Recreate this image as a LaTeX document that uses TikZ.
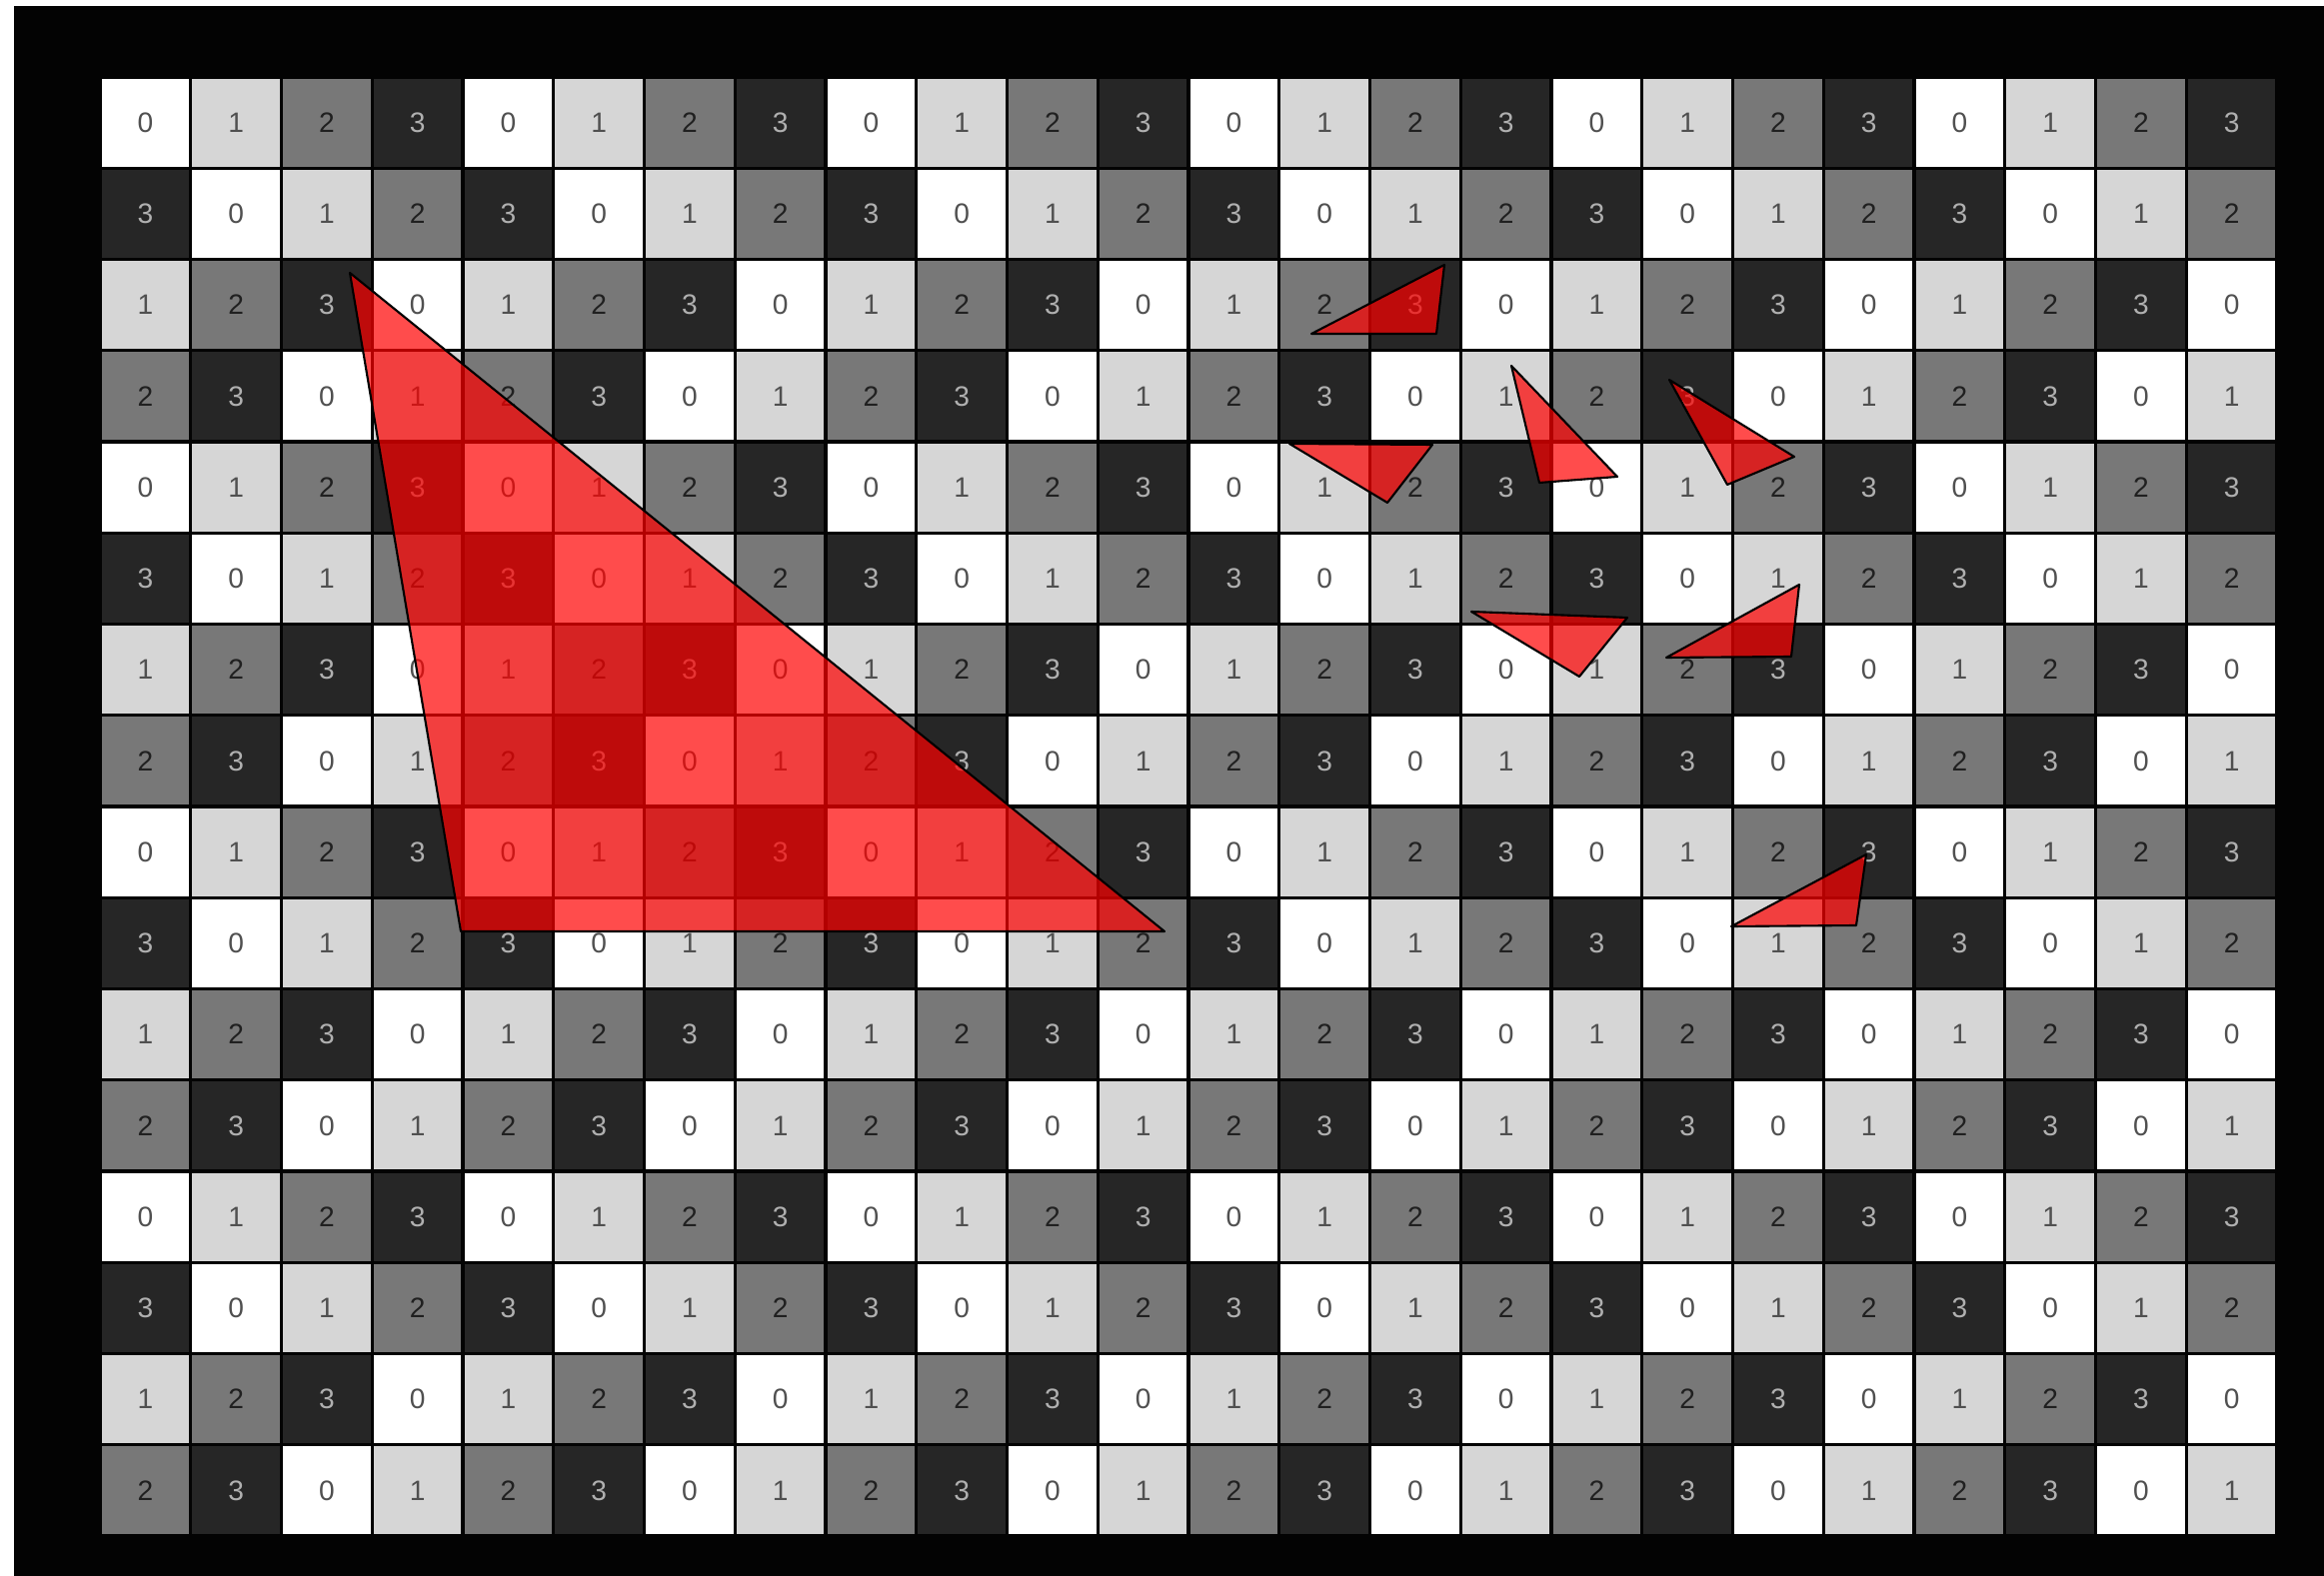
\documentclass[tikz,border=0pt]{standalone}
\usepackage{fontspec}
\setmainfont{Liberation Sans}
\definecolor{cf0}{HTML}{FFFFFF}
\definecolor{cf1}{HTML}{D6D6D6}
\definecolor{cf2}{HTML}{787878}
\definecolor{cf3}{HTML}{262626}
\definecolor{ct0}{HTML}{505050}
\definecolor{ct1}{HTML}{505050}
\definecolor{ct2}{HTML}{202020}
\definecolor{ct3}{HTML}{B0B0B0}
\definecolor{bgdark}{HTML}{030303}
\begin{document}
\begin{tikzpicture}[x=0.01cm,y=-0.01cm,
  cell/.style={rectangle, inner sep=0pt, minimum width=0.875cm, minimum height=0.88cm,
    font=\fontsize{8}{8}\selectfont},
  tri/.style={fill=red, fill opacity=0.7, draw=black, line width=0.6pt, line join=round}]
\fill[white] (0,0) rectangle (2325,1577);
\fill[bgdark] (14,6) rectangle (2325,1577);
\foreach \r in {0,...,15}{
  \foreach \c in {0,...,23}{
    \pgfmathtruncatemacro{\off}{{0,3,1,2}[mod(\r,4)]}
    \pgfmathtruncatemacro{\v}{mod(\c+\off,4)}
    \node[cell, fill=cf\v, text=ct\v] (c-\r-\c) at (145.4+90.75*\c, 122.6+91.25*\r) {\v};
  }
}
% big triangle
\filldraw[tri] (350,273) -- (461,932) -- (1165,932) -- cycle;
% small triangles
\filldraw[tri] (1312,334) -- (1445,265) -- (1437,334) -- cycle;
\filldraw[tri] (1290,444) -- (1433,445) -- (1388,503) -- cycle;
\filldraw[tri] (1512,366) -- (1618,477) -- (1540,483) -- cycle;
\filldraw[tri] (1670,380) -- (1795,457) -- (1728,485) -- cycle;
\filldraw[tri] (1472,612) -- (1628,618) -- (1580,677) -- cycle;
\filldraw[tri] (1667,658) -- (1800,585) -- (1792,657) -- cycle;
\filldraw[tri] (1732,927) -- (1867,855) -- (1857,926) -- cycle;
\end{tikzpicture}
\end{document}
